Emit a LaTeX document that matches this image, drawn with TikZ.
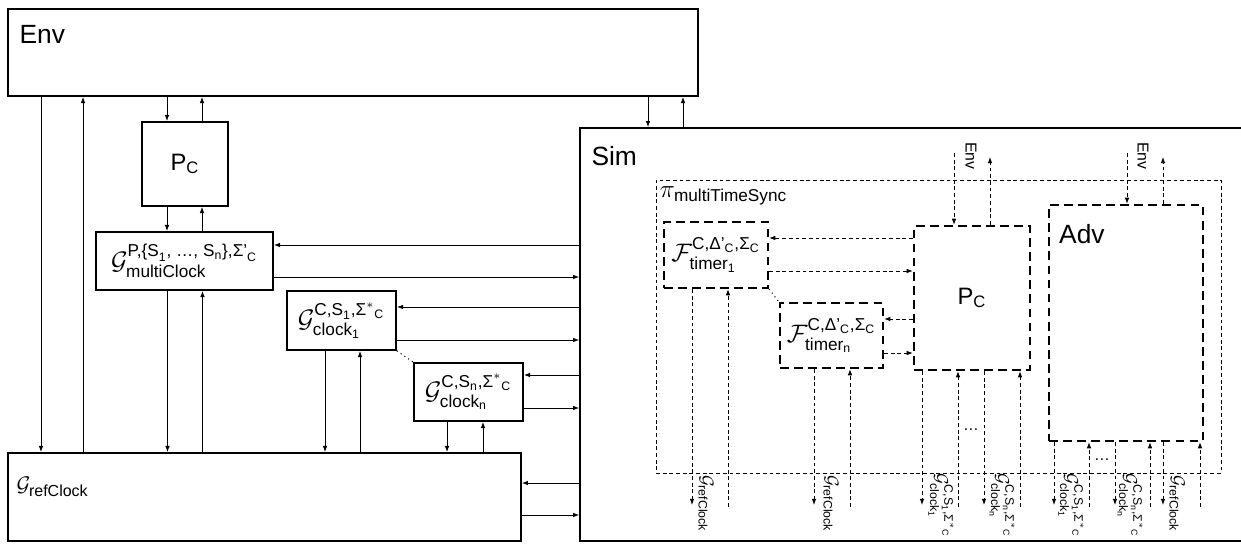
\documentclass[tikz,border=0pt]{standalone}
\usepackage{amsmath}
\usepackage{fontspec}
\setmainfont{Liberation Sans}
\usetikzlibrary{arrows.meta,positioning}

\newcommand{\tx}[1]{\text{#1}}
\newcommand{\gref}{\mathcal{G}_{\tx{refClock}}}
\newcommand{\gclk}[1]{\mathcal{G}^{\tx{C,S}_{\tx{#1}}\tx{,Σ}^{*}{}_{\tx{C}}}_{\tx{clock}_{\tx{#1}}}}
\newcommand{\ftim}[1]{\mathcal{F}^{\tx{C,Δ'}_{\tx{C}}\tx{,Σ}_{\tx{C}}}_{\tx{timer}_{\tx{#1}}}}

\begin{document}
\begin{tikzpicture}[
  x=0.02cm, y=-0.02cm,
  >=Latex,
  box/.style={rectangle, draw, line width=1pt, inner sep=0pt},
  dbox/.style={rectangle, draw, line width=1.3pt, dash pattern=on 5pt off 3pt, inner sep=0pt},
  pibox/.style={rectangle, draw, line width=0.5pt, dash pattern=on 2.2pt off 1.6pt, inner sep=0pt},
  conn/.style={-{Latex[length=3.5pt,width=2.6pt]}, line width=0.5pt},
  dconn/.style={conn, dash pattern=on 2.2pt off 1.6pt},
  big/.style={font=\fontsize{15}{18}\selectfont, inner sep=0pt},
  lab/.style={font=\fontsize{14}{16}\selectfont, inner sep=0pt},
  vlab/.style={font=\fontsize{10}{12}\selectfont, rotate=-90, anchor=west, inner sep=0pt},
  venv/.style={font=\fontsize{9}{11}\selectfont, rotate=-90, anchor=west, inner sep=0pt}
]
\useasboundingbox (0,0) rectangle (1241,544);

% --- outer boxes ---
\node[box, minimum width=13.8cm, minimum height=1.74cm] (env) at (353,52.5) {};
\node[big, below right=0.34cm and 0.24cm of env.north west] (envt) {Env};
\node[box, minimum width=13.4cm, minimum height=8.26cm] (sim) at (915,334.5) {};
\node[big, below right=0.38cm and 0.24cm of sim.north west] (simt) {Sim};

% --- left side ---
\node[box, minimum width=1.72cm, minimum height=1.68cm, font=\fontsize{13.5}{16}\selectfont] (pc) at (185,164) {$\tx{P}_{\tx{C}}$};
\node[box, lab, minimum width=3.54cm, minimum height=1.16cm] (mc) at (184.5,261)
  {$\mathcal{G}^{\tx{P,\{S}_{\tx{1}}\tx{, …, S}_{\tx{n}}\tx{\},Σ'}_{\tx{C}}}_{\tx{multiClock}}$};
\node[box, lab, minimum width=2.18cm, minimum height=1.18cm] (c1) at (341.5,320.5) {$\gclk{1}$};
\node[box, lab, minimum width=2.18cm, minimum height=1.16cm] (cn) at (468.5,392) {$\gclk{n}$};
\node[box, minimum width=10.26cm, minimum height=1.76cm] (ref) at (264.5,497) {};
\node[inner sep=0pt, font=\fontsize{13}{15}\selectfont, below right=0.5cm and 0.18cm of ref.north west] (reft) {$\gref$};

% --- inside Sim ---
\node[pibox, minimum width=11.3cm, minimum height=5.86cm] (pi) at (938.5,326.5) {};
\node[lab, below right=0.14cm and 0.08cm of pi.north west] (pit) {$\pi_{\tx{multiTimeSync}}$};
\node[dbox, lab, minimum width=2.08cm, minimum height=1.32cm] (t1) at (716,255) {$\ftim{1}$};
\node[dbox, lab, minimum width=2.06cm, minimum height=1.30cm] (tn) at (831.5,335.5) {$\ftim{n}$};
\node[dbox, minimum width=2.32cm, minimum height=2.88cm, font=\fontsize{13.5}{16}\selectfont] (spc) at (972,298) {$\tx{P}_{\tx{C}}$};
\node[dbox, minimum width=3.08cm, minimum height=4.72cm] (adv) at (1126,323) {};
\node[big, below right=0.4cm and 0.22cm of adv.north west] (advt) {Adv};

% --- edges, left side ---
% Env and refClock
\draw[conn] (env.south -| 41,0) -- (ref.north -| 41,0);
\draw[conn] (ref.north -| 83,0) -- (env.south -| 83,0);
% Env and P_C
\draw[conn] (env.south -| 167,0) -- (pc.north -| 167,0);
\draw[conn] (pc.north -| 202,0) -- (env.south -| 202,0);
% P_C and multiClock
\draw[conn] (pc.south -| 167,0) -- (mc.north -| 167,0);
\draw[conn] (mc.north -| 202,0) -- (pc.south -| 202,0);
% clocks down to refClock
\draw[conn] (mc.south -| 167.5,0) -- (ref.north -| 167.5,0);
\draw[conn] (ref.north -| 202.5,0) -- (mc.south -| 202.5,0);
\draw[conn] (c1.south -| 325,0) -- (ref.north -| 325,0);
\draw[conn] (ref.north -| 360,0) -- (c1.south -| 360,0);
\draw[conn] (cn.south -| 447,0) -- (ref.north -| 447,0);
\draw[conn] (ref.north -| 483,0) -- (cn.south -| 483,0);
\draw[dotted, line width=0.6pt] (c1.south east) -- (cn.north west);
% Env and Sim
\draw[conn] (env.south -| 648,0) -- (sim.north -| 648,0);
\draw[conn] (sim.north -| 683,0) -- (env.south -| 683,0);
% Sim and the clock boxes
\draw[conn] (sim.west |- 0,245) -- (mc.east |- 0,245);
\draw[conn] (mc.east |- 0,277) -- (sim.west |- 0,277);
\draw[conn] (sim.west |- 0,307) -- (c1.east |- 0,307);
\draw[conn] (c1.east |- 0,340) -- (sim.west |- 0,340);
\draw[conn] (sim.west |- 0,375) -- (cn.east |- 0,375);
\draw[conn] (cn.east |- 0,408) -- (sim.west |- 0,408);
\draw[conn] (sim.west |- 0,483) -- (ref.east |- 0,483);
\draw[conn] (ref.east |- 0,515) -- (sim.west |- 0,515);

% --- edges, inside Sim ---
% P_C and timers
\draw[dconn] (spc.west |- 0,238) -- (t1.east |- 0,238);
\draw[dconn] (t1.east |- 0,271) -- (spc.west |- 0,271);
\draw[dconn] (spc.west |- 0,319) -- (tn.east |- 0,319);
\draw[dconn] (tn.east |- 0,353) -- (spc.west |- 0,353);
\draw[dotted, line width=0.6pt] (t1.south east) -- (tn.north west);
% to Env
\coordinate (pin) at (954,153);
\coordinate (pout) at (990,157);
\draw[dconn] (pin) -- (spc.north -| pin);
\draw[dconn] (spc.north -| pout) -- (pout);
\node[venv] (penv) at (971,142) {Env};
\coordinate (ain) at (1127,153);
\coordinate (aout) at (1163,157);
\draw[dconn] (ain) -- (adv.north -| ain);
\draw[dconn] (adv.north -| aout) -- (aout);
\node[venv] (aenv) at (1143,142) {Env};
% down to the clocks
\draw[dconn] (t1.south -| 692,0) -- (692,505);
\draw[dconn] (728,507) -- (t1.south -| 728,0);
\draw[dconn] (tn.south -| 814,0) -- (814,505);
\draw[dconn] (850,507) -- (tn.south -| 850,0);
\draw[dconn] (spc.south -| 922,0) -- (922,505);
\draw[dconn] (958,507) -- (spc.south -| 958,0);
\draw[dconn] (spc.south -| 984,0) -- (984,505);
\draw[dconn] (1020,507) -- (spc.south -| 1020,0);
\draw[dconn] (adv.south -| 1054,0) -- (1054,505);
\draw[dconn] (1089,507) -- (adv.south -| 1089,0);
\draw[dconn] (adv.south -| 1115,0) -- (1115,505);
\draw[dconn] (1150,507) -- (adv.south -| 1150,0);
\draw[dconn] (adv.south -| 1163,0) -- (1163,505);
\draw[dconn] (1200,507) -- (adv.south -| 1200,0);
\node[font=\fontsize{9}{11}\selectfont] (pdots) at (971,430) {…};
\node[font=\fontsize{9}{11}\selectfont] (adots) at (1102,460) {…};

% rotated labels
\node[vlab] (l1) at (706,475) {$\gref$};
\node[vlab] (l2) at (831,475) {$\gref$};
\node[vlab] (l3) at (941,473) {$\gclk{1}$};
\node[vlab] (l4) at (1002,473) {$\gclk{n}$};
\node[vlab] (l5) at (1071,473) {$\gclk{1}$};
\node[vlab] (l6) at (1130,473) {$\gclk{n}$};
\node[vlab] (l7) at (1177,475) {$\gref$};

\end{tikzpicture}
\end{document}
